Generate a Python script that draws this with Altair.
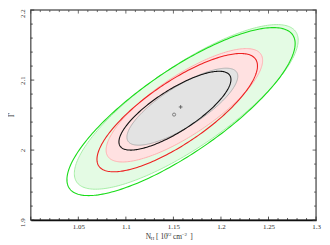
import numpy as np
import pandas as pd
import altair as alt

# Confidence contours (inner -> outer): grey, red, green
levels = ["68%", "90%", "99%"]
line_colors = ["#111111", "#ee2020", "#18dc18"]
fill_colors = ["#e3e3e3", "#ffe1e1", "#e4fbe4"]
faint_colors = ["#b0b0b0", "#ffb0b0", "#a6eea6"]

# solid contours: centre, half-extent in x and y, correlation
solid_cx = [1.1516, 1.1540, 1.1580]
solid_cy = [2.0563, 2.0535, 2.0550]
solid_hx = [0.0589, 0.0844, 0.1200]
solid_hy = [0.0563, 0.0845, 0.1200]
solid_rho = [0.79, 0.79, 0.81]

# shaded contours
fill_cx = [1.1594, 1.1615, 1.1635]
fill_cy = [2.0620, 2.0640, 2.0617]
fill_hx = [0.0583, 0.0823, 0.1177]
fill_hy = [0.0550, 0.0810, 0.1176]
fill_rho = [0.79, 0.79, 0.81]

# best-fit markers
circle_pt = (1.1507, 2.0507)
plus_pt = (1.1576, 2.0616)

x_labels = [1.05, 1.1, 1.15, 1.2, 1.25, 1.3]
x_major = [1.0, 1.05, 1.1, 1.15, 1.2, 1.25, 1.3]
x_minor = [1.01, 1.02, 1.03, 1.04, 1.06, 1.07, 1.08, 1.09, 1.11, 1.12, 1.13, 1.14,
           1.16, 1.17, 1.18, 1.19, 1.21, 1.22, 1.23, 1.24, 1.26, 1.27, 1.28, 1.29]
y_labels = [1.9, 2.0, 2.1, 2.2]
y_minor = [1.92, 1.94, 1.96, 1.98, 2.02, 2.04, 2.06, 2.08, 2.12, 2.14, 2.16, 2.18]

W, H = 288, 212
xs = alt.Scale(domain=[1.0, 1.3], nice=False, zero=False)
ys = alt.Scale(domain=[1.9, 2.2], nice=False, zero=False)
lab_font = "Liberation Serif"

XA = alt.Axis(values=x_labels, format="~g", ticks=False, domain=True, domainColor="#111",
              domainWidth=1.5, grid=False, labelFont=lab_font, labelFontSize=7,
              labelColor="#333", labelPadding=3, labelFlush=False, labelOverlap=False,
              title=None)
YA = alt.Axis(values=y_labels, format="~g", ticks=False, domain=False, grid=False,
              labelFont=lab_font, labelFontSize=7, labelColor="#333", labelAngle=270,
              labelAlign="center", labelBaseline="bottom", labelPadding=5,
              labelOffset={"condition": [{"test": "datum.value > 2.15", "value": 3},
                                         {"test": "datum.value < 1.95", "value": 2}],
                           "value": 0},
              labelFlush=False, labelOverlap=False, title=None)


def X(f):
    return alt.X(f, scale=xs, axis=XA)


def Y(f):
    return alt.Y(f, scale=ys, axis=YA)


def ell_closed(cx, cy, hx, hy, r, n=241):
    t = np.linspace(0, 2 * np.pi, n)
    s = np.sqrt(1 - r * r)
    return pd.DataFrame({"i": np.arange(n), "x": cx + hx * np.cos(t),
                         "y": cy + hy * (r * np.cos(t) + s * np.sin(t))})


def ell_area(cx, cy, hx, hy, r, n=181):
    t = np.linspace(0, np.pi, n)
    s = np.sqrt(1 - r * r)
    return pd.DataFrame({"x": cx + hx * np.cos(t),
                         "y": cy + hy * (r * np.cos(t) - s * np.sin(t)),
                         "yu": cy + hy * (r * np.cos(t) + s * np.sin(t))})


layers = []
# shaded regions, outer first
for k in [2, 1, 0]:
    a = ell_area(fill_cx[k], fill_cy[k], fill_hx[k], fill_hy[k], fill_rho[k])
    layers.append(alt.Chart(a).mark_area(color=fill_colors[k], opacity=1).encode(
        x=X("x:Q"), y=Y("y:Q"), y2="yu:Q"))
    e = ell_closed(fill_cx[k], fill_cy[k], fill_hx[k], fill_hy[k], fill_rho[k])
    layers.append(alt.Chart(e).mark_line(color=faint_colors[k], strokeWidth=1).encode(
        x=X("x:Q"), y=Y("y:Q"), order="i:Q"))

for k in [2, 1, 0]:
    e = ell_closed(solid_cx[k], solid_cy[k], solid_hx[k], solid_hy[k], solid_rho[k])
    layers.append(alt.Chart(e).mark_line(color=line_colors[k], strokeWidth=1.1).encode(
        x=X("x:Q"), y=Y("y:Q"), order="i:Q"))

pts = pd.DataFrame({"x": [circle_pt[0]], "y": [circle_pt[1]]})
layers.append(alt.Chart(pts).mark_point(shape="circle", size=10, color="#333",
                                        strokeWidth=0.8, filled=False).encode(
    x=X("x:Q"), y=Y("y:Q")))
pl = pd.DataFrame({"x": [plus_pt[0]], "y": [plus_pt[1]]})
layers.append(alt.Chart(pl).mark_point(shape="M-1,0L1,0M0,-1L0,1", size=14, color="#222",
                                       strokeWidth=0.9, filled=False).encode(
    x=X("x:Q"), y=Y("y:Q")))


# inward ticks on all four sides
def xticks(vals, L):
    d = pd.DataFrame({"x": vals})
    b = alt.Chart(d).mark_rule(color="#222", strokeWidth=0.8).encode(
        x=X("x:Q"), y=alt.value(H), y2=alt.value(H - L))
    t = alt.Chart(d).mark_rule(color="#444", strokeWidth=0.8).encode(
        x=X("x:Q"), y=alt.value(0), y2=alt.value(L))
    return [b, t]


def yticks(vals, L):
    d = pd.DataFrame({"y": vals})
    l = alt.Chart(d).mark_rule(color="#222", strokeWidth=0.8).encode(
        y=Y("y:Q"), x=alt.value(0), x2=alt.value(L))
    r = alt.Chart(d).mark_rule(color="#444", strokeWidth=0.8).encode(
        y=Y("y:Q"), x=alt.value(W), x2=alt.value(W - L))
    return [l, r]


layers += xticks(x_major, 3.5) + xticks(x_minor, 2)
layers += yticks(y_labels, 3.5) + yticks(y_minor, 2)

# axis titles
one = pd.DataFrame({"a": [0]})
ty = 231
title_parts = [("N", 116, ty, 7.5), ("H", 121, ty + 1.5, 5), ("[ 10", 126.5, ty, 7.5),
               ("22", 137, ty - 3, 5), ("cm", 143.5, ty, 7.5), ("\u22122", 152.5, ty - 3, 5),
               ("]", 161, ty, 7.5)]
for txt, px, py, fs in title_parts:
    layers.append(alt.Chart(one).mark_text(align="left", baseline="alphabetic", font=lab_font,
                                           fontSize=fs, color="#333").encode(
        x=alt.value(px), y=alt.value(py), text=alt.value(txt)))
layers.append(alt.Chart(one).mark_text(align="center", baseline="middle", font=lab_font,
                                       fontSize=8, color="#333", angle=270).encode(
    x=alt.value(-19), y=alt.value(106), text=alt.value("\u0393")))

chart = alt.layer(*layers).properties(
    width=W, height=H, autosize=alt.AutoSizeParams(type="none"),
    padding={"left": 23, "top": 1, "right": 6, "bottom": 20}
).configure_view(stroke="#666", strokeWidth=1.5)

chart.save("out.html", embed_options={"renderer": "svg", "actions": False})
